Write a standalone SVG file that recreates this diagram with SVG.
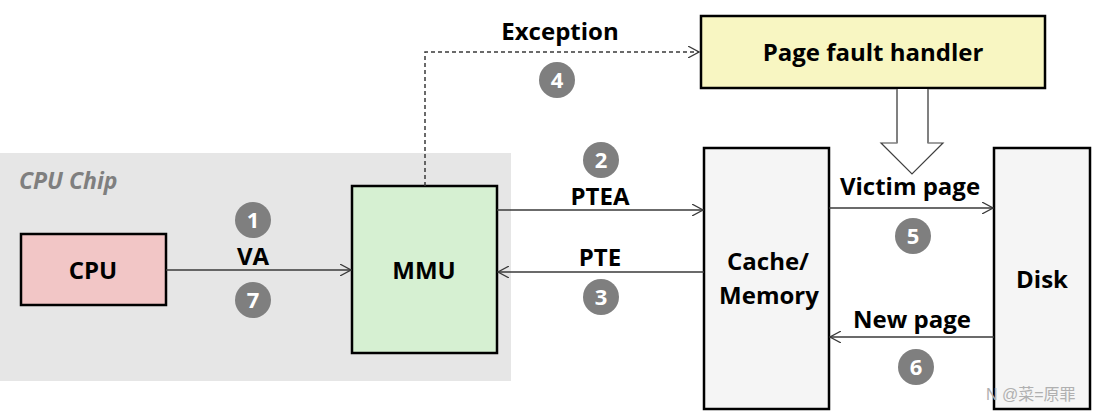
<svg xmlns="http://www.w3.org/2000/svg" width="1093" height="411" viewBox="0 0 1093 411">
<style>
.t{font-family:"Open Sans","Liberation Sans",sans-serif;font-weight:bold;font-size:24px;fill:#000;text-anchor:middle}
.n{font-family:"Open Sans","Liberation Sans",sans-serif;font-weight:bold;font-size:22px;fill:#fff;text-anchor:middle}
.c{fill:#7f7f7f}
.box{stroke:#000;stroke-width:2.5}
.ln{stroke:#3a3a3a;stroke-width:1.5;fill:none}
</style>
<defs>
<marker id="ah" viewBox="0 0 12 12" refX="11" refY="6" markerWidth="12" markerHeight="12" markerUnits="userSpaceOnUse" orient="auto">
<path d="M0,0 L11,6 L0,12" fill="none" stroke="#3a3a3a" stroke-width="1.2"/>
</marker>
</defs>
<rect width="1093" height="411" fill="#fff"/>
<g id="cpu-chip">
<rect x="0" y="153" width="511" height="228" fill="#e6e6e6"/>
<text x="19" y="189" font-family="'Open Sans','Liberation Sans',sans-serif" font-weight="bold" font-style="italic" font-size="23" fill="#7f7f7f">CPU Chip</text>
</g>
<g id="cpu">
<rect class="box" x="21" y="234" width="145" height="71" fill="#f2c6c6"/>
<text class="t" x="93" y="279">CPU</text>
</g>
<g id="mmu">
<rect class="box" x="352" y="186" width="145" height="167" fill="#d6f0d2"/>
<text class="t" x="424" y="279">MMU</text>
</g>
<g id="memory">
<rect class="box" x="704" y="148" width="125" height="261" fill="#f5f5f5"/>
<text class="t" x="768" y="270">Cache/</text>
<text class="t" x="769" y="304">Memory</text>
</g>
<g id="disk">
<rect class="box" x="994" y="148" width="96" height="261" fill="#f5f5f5"/>
<text class="t" x="1042" y="288">Disk</text>
</g>
<g id="handler">
<rect class="box" x="701" y="16" width="344" height="72" fill="#f8f6c2"/>
<text class="t" x="873" y="61">Page fault handler</text>
</g>
<g id="connectors">
<path class="ln" d="M425,186 V52 H699" stroke-dasharray="4,3" stroke-width="1.2" marker-end="url(#ah)"/>
<line class="ln" x1="166" y1="270" x2="351" y2="270" marker-end="url(#ah)"/>
<line class="ln" x1="497" y1="210" x2="703" y2="210" marker-end="url(#ah)"/>
<line class="ln" x1="704" y1="272" x2="498" y2="272" marker-end="url(#ah)"/>
<line class="ln" x1="829" y1="208" x2="993" y2="208" marker-end="url(#ah)"/>
<line class="ln" x1="994" y1="337" x2="830" y2="337" marker-end="url(#ah)"/>
<path d="M897,89 V143 H881 L912,174 L943,143 H928 V89" fill="#fff" stroke="#404040" stroke-width="1.2"/>
<path d="M897,89 V143 M928,89 V143" stroke="#808080" stroke-width="2" fill="none"/>
</g>
<g id="labels">
<text class="t" x="560" y="40">Exception</text>
<text class="t" x="253" y="265">VA</text>
<text class="t" x="600" y="205">PTEA</text>
<text class="t" x="600" y="266">PTE</text>
<text class="t" x="910" y="195">Victim page</text>
<text class="t" x="912" y="328">New page</text>
</g>
<g id="steps">
<circle class="c" cx="253" cy="220" r="18"/><text class="n" x="253" y="228">1</text>
<circle class="c" cx="601" cy="160" r="18"/><text class="n" x="601" y="168">2</text>
<circle class="c" cx="601" cy="297" r="18"/><text class="n" x="601" y="305">3</text>
<circle class="c" cx="557" cy="80" r="18"/><text class="n" x="557" y="88">4</text>
<circle class="c" cx="913" cy="236" r="18"/><text class="n" x="913" y="244">5</text>
<circle class="c" cx="916" cy="367" r="18"/><text class="n" x="916" y="375">6</text>
<circle class="c" cx="253" cy="300" r="18"/><text class="n" x="253" y="308">7</text>
</g>
<text x="986" y="400" font-family="'Liberation Sans','Noto Sans CJK SC',sans-serif" font-size="16" fill="#b0b0b0">N @菜=原罪</text>
</svg>
